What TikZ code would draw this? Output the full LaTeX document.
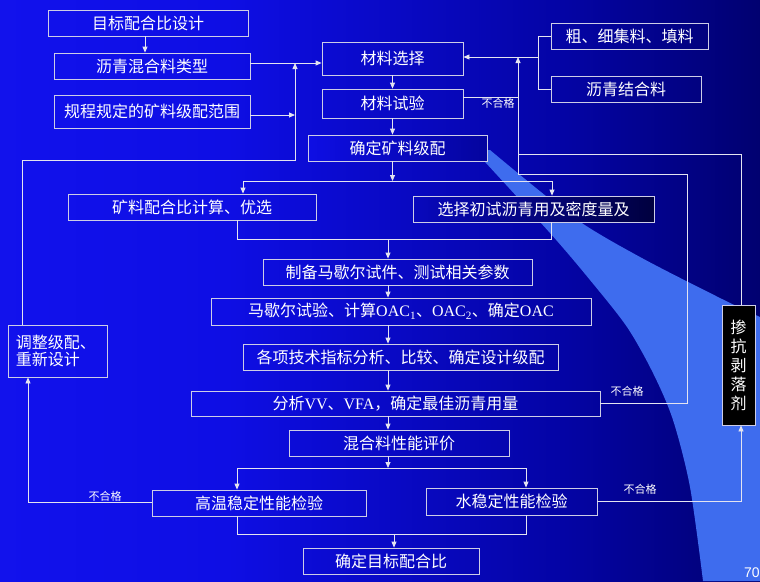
\documentclass[tikz,border=0pt]{standalone}
\usepackage{fontspec}
\setmainfont{Liberation Serif}
\newfontfamily\cjk{Noto Sans CJK SC}
\newfontfamily\pagefont{Liberation Sans}
\usetikzlibrary{arrows.meta}
\definecolor{bgA}{RGB}{24,24,250}
\definecolor{bgB}{RGB}{14,14,228}
\definecolor{bgC}{RGB}{4,4,165}
\definecolor{bgD}{RGB}{0,0,100}
\definecolor{bgE}{RGB}{0,0,40}
\definecolor{sixR}{RGB}{4,4,158}
\definecolor{tenL}{RGB}{8,8,190}
\definecolor{tenR}{RGB}{0,0,62}
\definecolor{swoosh}{RGB}{62,108,238}
\definecolor{frame}{RGB}{205,205,230}
\definecolor{wire}{RGB}{228,228,240}
\pgfdeclarehorizontalshading{slidebg}{100bp}{color(0bp)=(bgA); color(40bp)=(bgB); color(62bp)=(bgC); color(78bp)=(bgD); color(90bp)=(bgE); color(97bp)=(black); color(100bp)=(black)}
\newcommand{\lat}[1]{{\rmfamily #1}}
\tikzset{
  box/.style={draw=frame, line width=0.8pt, text=white, inner sep=0pt,
    font=\cjk\fontsize{16}{19}\selectfont},
  link/.style={draw=wire, line width=0.8pt},
  arr/.style={link, -{Triangle[length=6pt,width=5pt]}},
  fail/.style={text=white, inner sep=1pt, font=\cjk\fontsize{11}{13}\selectfont}
}

\begin{document}
\begin{tikzpicture}[x=1pt,y=-1pt]
  % background
  \shade[shading=slidebg] (0,0) rectangle (760,581);
  \useasboundingbox (0,0) rectangle (760,581);
  \fill[swoosh] plot[smooth] coordinates {(490,150) (573,217) (640,257) (722,299) (760,317)}
    -- (760,581)
    -- plot[smooth] coordinates {(703,581) (690,487) (673,420) (653,373) (627,327) (590,280) (550,233) (474,150)}
    -- cycle;

  % design inputs
  \node[box, minimum width=200pt, minimum height=26pt] (b1) at (148,23) {目标配合比设计};
  \node[box, minimum width=196pt, minimum height=26pt] (b2) at (152,66) {沥青混合料类型};
  \node[box, minimum width=196pt, minimum height=33pt] (b3) at (152,111.5) {规程规定的矿料级配范围};

  % materials
  \node[box, minimum width=141pt, minimum height=33pt] (b4) at (392.5,58.5) {材料选择};
  \node[box, minimum width=141pt, minimum height=29pt] (b5) at (392.5,103.5) {材料试验};
  \node[box, minimum width=179pt, minimum height=26pt, left color=bgB, right color=sixR] (b6) at (397.5,148) {确定矿料级配};
  \node[box, minimum width=157pt, minimum height=26pt] (b7) at (629.5,36) {粗、细集料、填料};
  \node[box, minimum width=150pt, minimum height=26pt] (b8) at (626,89) {沥青结合料};

  % mix design steps
  \node[box, minimum width=248pt, minimum height=26pt] (b9) at (192,207) {矿料配合比计算、优选};
  \node[box, minimum width=241pt, minimum height=26pt, left color=tenL, right color=tenR] (b10) at (533.5,209) {选择初试沥青用及密度量及};
  \node[box, minimum width=269pt, minimum height=26pt] (b11) at (397.5,272) {制备马歇尔试件、测试相关参数};
  \node[box, minimum width=380pt, minimum height=27pt] (b12) at (401,311.5)
    {马歇尔试验、计算\lat{OAC\textsubscript{1}}、\lat{OAC\textsubscript{2}}、确定\lat{OAC}};
  \node[box, minimum width=315pt, minimum height=26pt] (b13) at (400.5,357) {各项技术指标分析、比较、确定设计级配};
  \node[box, minimum width=409pt, minimum height=25pt] (b14) at (395.5,403.5) {分析\lat{VV}、\lat{VFA}，确定最佳沥青用量};
  \node[box, minimum width=220pt, minimum height=26pt] (b15) at (399,443) {混合料性能评价};
  \node[box, minimum width=214pt, minimum height=26pt] (b16) at (259,503) {高温稳定性能检验};
  \node[box, minimum width=171pt, minimum height=27pt] (b17) at (511.5,501.5) {水稳定性能检验};
  \node[box, minimum width=176pt, minimum height=26pt] (b18) at (391,561) {确定目标配合比};

  % side boxes
  \node[box, minimum height=52pt, inner xsep=8pt, text width=83pt, align=left,
    font=\cjk\fontsize{16}{17}\selectfont] (b19) at (57.5,351) {调整级配、\\重新设计};
  \node[box, fill=black, minimum width=33pt, minimum height=120pt, align=center,
    font=\cjk\fontsize{16}{19}\selectfont] (b20) at (738.5,365) {掺\\抗\\剥\\落\\剂};

  % junctions
  \coordinate (a1) at (145,36);
  \coordinate (j1) at (295,63);
  \coordinate (j2) at (295,115);
  \coordinate (j3) at (295,160);
  \coordinate (adj) at (22,160);
  \coordinate (hl) at (28,502);
  \coordinate (s1l) at (243,181);
  \coordinate (s1r) at (552,181);
  \coordinate (m1l) at (237,239);
  \coordinate (m1r) at (551,239);
  \coordinate (m1c) at (388,239);
  \coordinate (s2l) at (237,468);
  \coordinate (s2r) at (526,468);
  \coordinate (m2l) at (237,534);
  \coordinate (m2r) at (526,534);
  \coordinate (m2c) at (394,534);
  \coordinate (br) at (538,57);
  \coordinate (up) at (518,57);
  \coordinate (r0) at (518,97);
  \coordinate (r1) at (518,174);
  \coordinate (r2) at (687,174);
  \coordinate (s20) at (741,154);

  % left part
  \draw[arr] (b1.south -| a1) -- (b2.north -| a1);
  \draw[arr] (b2.east |- j1) -- (b4.west |- j1);
  \draw[arr] (b3.east |- j2) -- (j2);
  \draw[arr] (b19.north -| adj) -- (adj) -- (j3) -- (j1);
  \draw[arr] (b16.west |- hl) -- (hl) -- (hl |- b19.south);
  \node[fail] (nf1) at (105,496) {不合格};

  % main chain
  \draw[arr] (b4.south) -- (b5.north);
  \draw[arr] (b5.south) -- (b5.south |- b6.north);
  \draw[arr] (b5.south |- b6.south) -- (b5.south |- s1l);
  \draw[link] (s1l) -- (s1r);
  \draw[arr] (s1l) -- (s1l |- b9.north);
  \draw[arr] (s1r) -- (s1r |- b10.north);
  \draw[link] (m1l |- b9.south) -- (m1l) -- (m1r) -- (m1r |- b10.south);
  \draw[arr] (m1c) -- (m1c |- b11.north);
  \foreach \a/\b in {b11/b12, b12/b13, b13/b14, b14/b15}
    \draw[arr] (m1c |- \a.south) -- (m1c |- \b.north);
  \draw[arr] (m1c |- b15.south) -- (m1c |- s2l);
  \draw[link] (s2l) -- (s2r);
  \draw[arr] (s2l) -- (s2l |- b16.north);
  \draw[arr] (s2r) -- (s2r |- b17.north);
  \draw[link] (m2l |- b16.south) -- (m2l) -- (m2r) -- (m2r |- b17.south);
  \draw[arr] (m2c) -- (m2c |- b18.north);

  % right part
  \draw[link] (b7.west) -- (b7.west -| br) -- (b8.west -| br) -- (b8.west);
  \draw[arr] (br) -- (br -| b4.east);
  \draw[link] (b5.east |- r0) -- (r0);
  \node[fail] (nf2) at (498,103) {不合格};
  \draw[arr] (b14.east) -- (b14.east -| r2) -- (r2) -- (r1) -- (up);
  \node[fail] (nf3) at (627,391) {不合格};
  \draw[link] (b20.north -| s20) -- (s20) -- (s20 -| up);
  \draw[arr] (b17.east) -- (b17.east -| s20) -- (s20 |- b20.south);
  \node[fail] (nf4) at (640,489) {不合格};

  % page number
  \node[text=white, anchor=west, inner sep=0pt, font=\pagefont\fontsize{14}{16}\selectfont] (pg) at (744,573) {70};
\end{tikzpicture}
\end{document}
